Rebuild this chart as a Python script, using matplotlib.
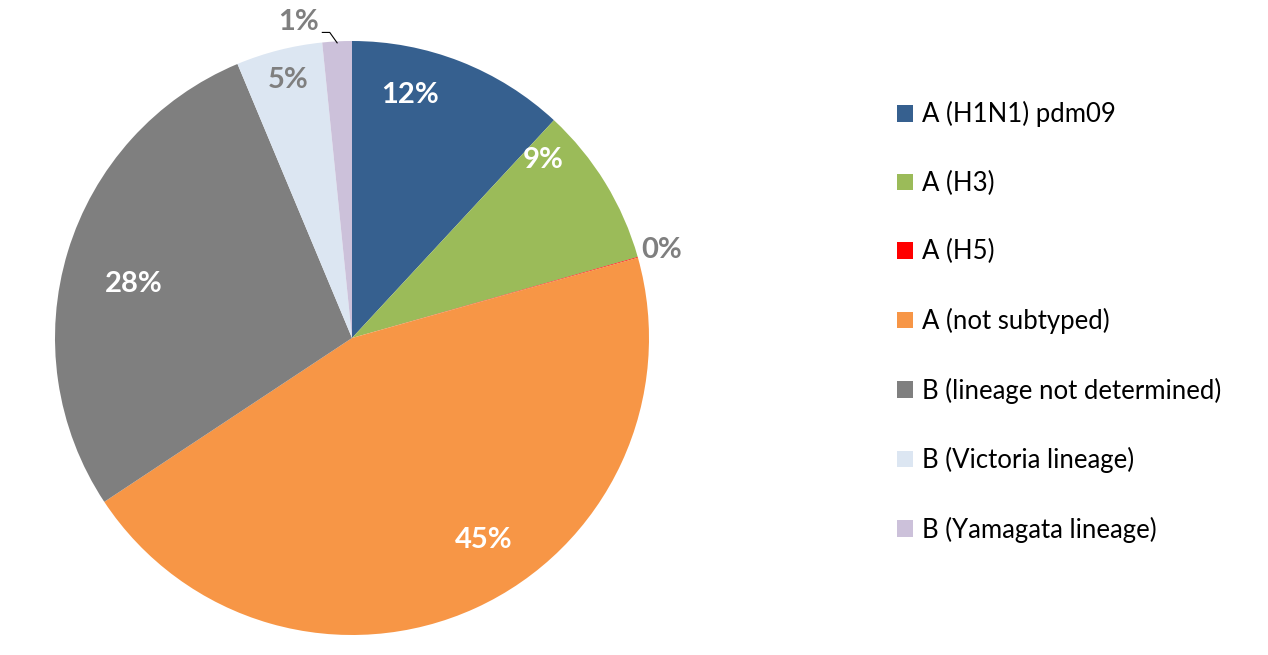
import numpy as np
import matplotlib.pyplot as plt
from matplotlib.patches import Patch

# influenza types, share of detections (%)
categories = ['A (H1N1) pdm09', 'A (H3)', 'A (H5)', 'A (not subtyped)',
              'B (lineage not determined)', 'B (Victoria lineage)', 'B (Yamagata lineage)']
shares = [11.9, 8.7, 0.04, 45.06, 28.0, 4.7, 1.6]
pct_labels = ['12%', '9%', '0%', '45%', '28%', '5%', '1%']
colors = ['#36608F', '#9BBB59', '#FF0000', '#F79646', '#7F7F7F', '#DCE6F2', '#CCC1DA']

plt.rcParams['font.family'] = ['Lato', 'DejaVu Sans']

fig = plt.figure(figsize=(12.68, 6.55), dpi=100)
W, H = 1268, 655
cx, cy, r = 352, 338, 297
ax = fig.add_axes([(cx - r) / W, (H - cy - r) / H, 2 * r / W, 2 * r / H])

wedges, _ = ax.pie(shares, colors=colors, startangle=90, counterclock=False,
                   radius=1.0, wedgeprops=dict(linewidth=0))
ax.set_xlim(-1, 1)
ax.set_ylim(-1, 1)
ax.set_aspect('auto')
ax.axis('off')

# label placement (angle in degrees, distance from centre), colour
lab_a = [76.6, 43.0, 15.8, -56.9, 166.1, 103.9, 99.6]
lab_r = [0.84, 0.88, 1.085, 0.81, 0.756, 0.895, 1.079]
lab_c = ['white', 'white', '#7F7F7F', 'white', 'white', '#7F7F7F', '#7F7F7F']
for i, w in enumerate(wedges):
    ang = np.deg2rad(lab_a[i])
    x, y = lab_r[i] * np.cos(ang), lab_r[i] * np.sin(ang)
    ax.text(x, y, pct_labels[i], ha='center', va='center', fontsize=21,
            fontweight='bold', color=lab_c[i])
    if i == 6:
        mid = np.deg2rad((w.theta1 + w.theta2) / 2)
        ax.plot([x + 0.08, x + 0.105, 0.995 * np.cos(mid)],
                [y - 0.035, y - 0.035, 0.995 * np.sin(mid)],
                color='black', lw=0.8, clip_on=False)

handles = [Patch(facecolor=c, edgecolor='none') for c in colors]
fig.legend(handles, categories, loc='center left', bbox_to_anchor=(874 / W, 1 - 322 / H),
           frameon=False, fontsize=18.5, labelspacing=1.69, handlelength=0.62,
           handleheight=0.62, handletextpad=0.35, labelcolor='black')

fig.savefig('out.png', dpi=100)
